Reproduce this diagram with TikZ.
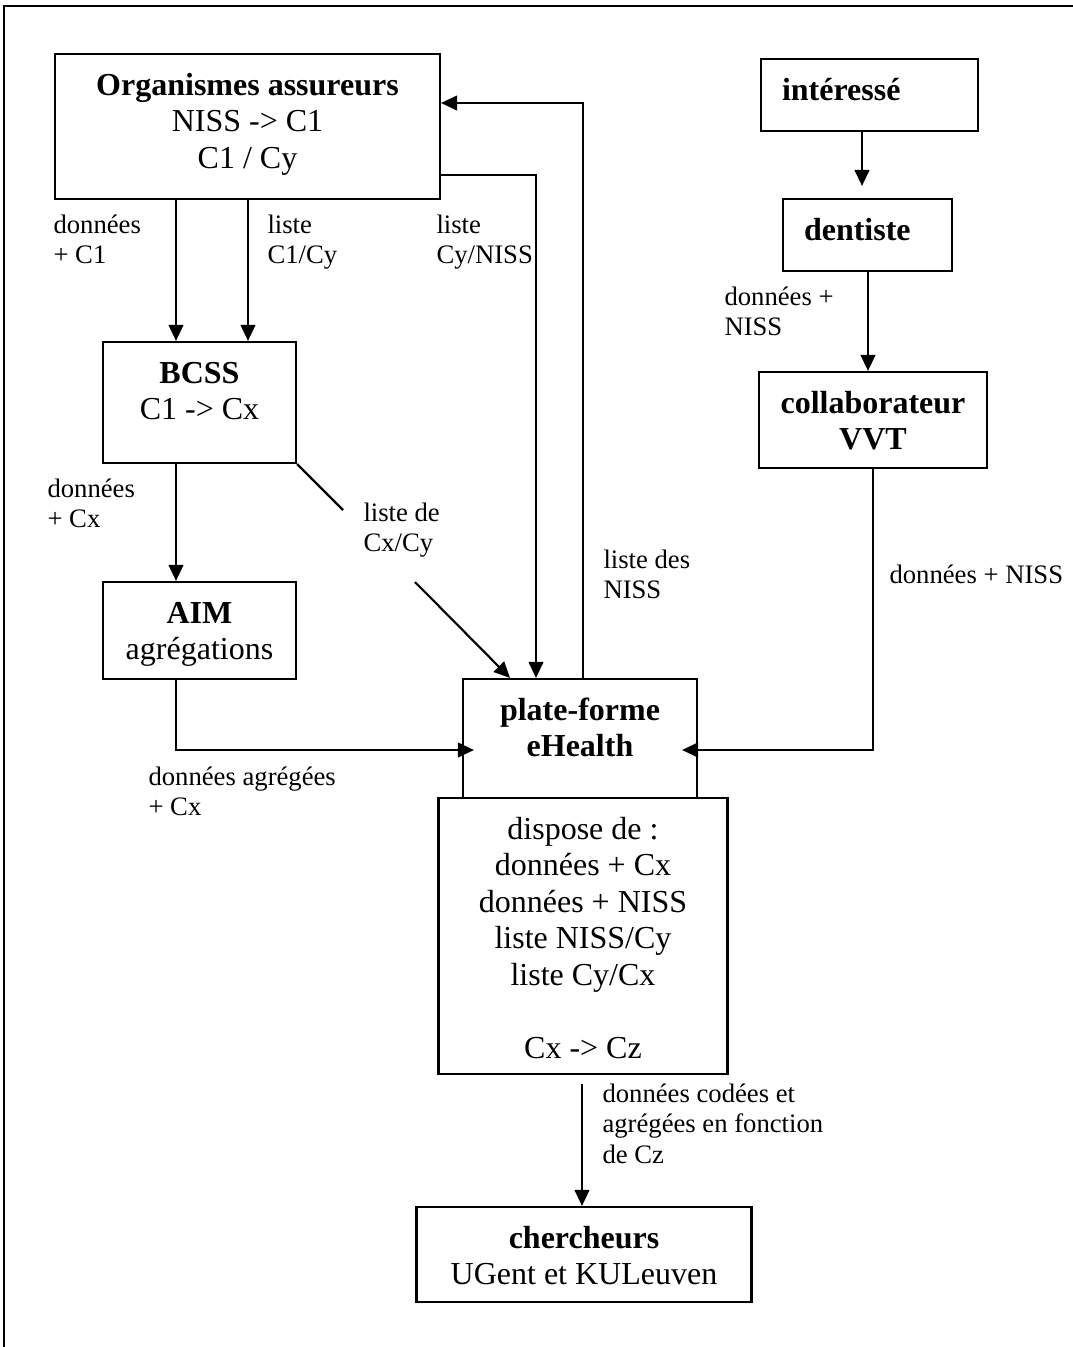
\documentclass[tikz,border=0pt]{standalone}
\usepackage{fontspec}
\setmainfont{Liberation Serif}
\usetikzlibrary{arrows.meta}
\newlength\pxl
\setlength\pxl{0.375pt}
\newcommand\bx[4][\centering]{\parbox[c][#3\pxl][t]{#2\pxl}{#1\rule{0pt}{41\pxl}#4}}
\newcommand\lbl[1]{\begin{tabular}[t]{@{}l@{}}#1\end{tabular}}
\tikzset{
  box/.style={draw, line width=0.8pt, inner sep=0pt, font=\fontsize{12pt}{13.73pt}\selectfont},
  lab/.style={anchor=base west, inner sep=0pt, font=\fontsize{10pt}{11.6pt}\selectfont},
  conn/.style={line width=0.8pt},
  arr/.style={line width=0.8pt, -{Triangle[length=6pt,width=5.5pt]}},
  frame/.style={line width=0.8pt}
}
\begin{document}
\begin{tikzpicture}[x=0.375pt, y=-0.375pt]
\useasboundingbox (0,0) rectangle (1073,1347);
\draw[frame] (4,1347) -- (4,6) -- (1073,6);

% boxes
\node[box] (org) at (247.5,126.5) {\bx{385}{145}{\textbf{Organismes assureurs}\\NISS -> C1\\C1 / Cy}};
\node[box] (bcss) at (199.5,402.5) {\bx{193}{121}{\textbf{BCSS}\\C1 -> Cx}};
\node[box] (aim) at (199.5,630.5) {\bx{193}{97}{\textbf{AIM}\\agrégations}};
\node[box] (int) at (869.5,95) {\bx[\raggedright\hspace*{21\pxl}]{217}{72}{\textbf{intéressé}}};
\node[box] (dent) at (867.5,235) {\bx[\raggedright\hspace*{21\pxl}]{169}{72}{\textbf{dentiste}}};
\node[box] (collab) at (873,420) {\bx{228}{96}{\textbf{collaborateur}\\\textbf{VVT}}};
\node[box] (eh) at (580,738.5) {\bx{234}{119}{\textbf{plate-forme}\\\textbf{eHealth}}};
\node[box] (disp) at (583,936) {\bx{289}{276}{dispose de :\\données + Cx\\données + NISS\\liste NISS/Cy\\liste Cy/Cx\\~\\Cx -> Cz}};
\node[box] (cher) at (584,1254.5) {\bx{335}{95}{\textbf{chercheurs}\\UGent et KULeuven}};

% connectors
\draw[arr] (org.south -| 176,0) -- (bcss.north -| 176,0);
\draw[arr] (org.south -| 248,0) -- (bcss.north -| 248,0);
\draw[arr] (org.east |- 0,175) -| (eh.north -| 536,0);
\draw[arr] (eh.north -| 583,0) |- (org.east |- 0,103);
\coordinate (g1) at (343,510);
\coordinate (g2) at (415,582);
\draw[conn] (bcss.south east) -- (g1);
\draw[arr] (g2) -- (eh.north -| 510,0);
\draw[arr] (bcss.south -| 176,0) -- (aim.north -| 176,0);
\draw[arr, shorten >=-4.5pt] (aim.south -| 176,0) |- (eh.west |- 0,750);
\draw[arr, shorten >=-6pt] (collab.south -| 873,0) |- (eh.east |- 0,750);
\draw[arr, shorten >=4.5pt] (int.south -| 862,0) -- (dent.north -| 862,0);
\draw[arr] (dent.south -| 868,0) -- (collab.north -| 868,0);
\draw[arr, shorten <=3.4pt] (disp.south -| 582,0) -- (cher.north -| 582,0);

% labels
\node[lab] (l1) at (53,233) {\lbl{données\\+ C1}};
\node[lab] (l2) at (267,233) {\lbl{liste\\C1/Cy}};
\node[lab] (l3) at (436,233) {\lbl{liste\\Cy/NISS}};
\node[lab] (l4) at (724,305) {\lbl{données +\\NISS}};
\node[lab] (l5) at (47,497) {\lbl{données\\+ Cx}};
\node[lab] (l6) at (363,521) {\lbl{liste de\\Cx/Cy}};
\node[lab] (l7) at (603,568) {\lbl{liste des\\NISS}};
\node[lab] (l8) at (889,583) {données + NISS};
\node[lab] (l9) at (148,785) {\lbl{données agrégées\\+ Cx}};
\node[lab] (l10) at (602,1102) {\lbl{données codées et\\agrégées en fonction\\de Cz}};
\end{tikzpicture}
\end{document}
